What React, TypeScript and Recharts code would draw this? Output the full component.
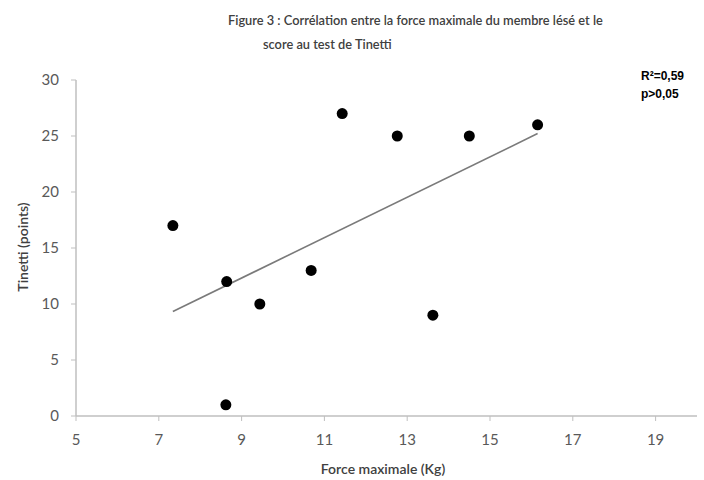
import { ScatterChart, Scatter, XAxis, YAxis, ReferenceLine } from "recharts";

// Force maximale (Kg) and Tinetti score per patient
const force = [7.34, 8.64, 8.62, 9.44, 10.68, 11.43, 12.76, 13.62, 14.5, 16.15];
const tinetti = [17, 12, 1, 10, 13, 27, 25, 9, 25, 26];
const xTicks = [5, 7, 9, 11, 13, 15, 17, 19];
const yTicks = [0, 5, 10, 15, 20, 25, 30];

const points = force.map((x, i) => ({ x, y: tinetti[i] }));

// least squares trend line over the observed range
const n = force.length;
const mx = force.reduce((a, b) => a + b, 0) / n;
const my = tinetti.reduce((a, b) => a + b, 0) / n;
let sxy = 0;
let sxx = 0;
force.forEach((x, i) => {
  sxy += (x - mx) * (tinetti[i] - my);
  sxx += (x - mx) * (x - mx);
});
const slope = sxy / sxx;
const xMin = Math.min(...force);
const xMax = Math.max(...force);
const trend = [
  { x: xMin, y: my + slope * (xMin - mx) },
  { x: xMax, y: my + slope * (xMax - mx) },
];

const font = "Lato, 'Open Sans', sans-serif";
const tickStyle = { fill: "#595959", fontSize: 15, fontFamily: font };

export default function App() {
  return (
    <div style={{ position: "absolute", left: 0, top: 0, width: 704, height: 480, background: "#fff" }}>
      <div style={{ position: "absolute", left: 228, top: 12, fontFamily: font, fontSize: 12.8, fontWeight: 600, color: "#404040", whiteSpace: "nowrap" }}>
        Figure 3 : Corrélation entre la force maximale du membre lésé et le
      </div>
      <div style={{ position: "absolute", left: 263, top: 36, fontFamily: font, fontSize: 12.8, fontWeight: 600, color: "#404040", whiteSpace: "nowrap" }}>
        score au test de Tinetti
      </div>
      <div style={{ position: "absolute", left: 641, top: 67, fontFamily: "'Liberation Sans', Arial, sans-serif", fontSize: 12, fontWeight: "bold", color: "#000", lineHeight: "18px" }}>
        R²=0,59
        <br />
        p&gt;0,05
      </div>
      <div
        style={{
          position: "absolute",
          left: 22,
          top: 247,
          transform: "translate(-50%, -50%) rotate(-90deg)",
          fontFamily: font,
          fontSize: 14,
          fontWeight: 600,
          color: "#404040",
          whiteSpace: "nowrap",
        }}
      >
        Tinetti (points)
      </div>
      <div
        style={{
          position: "absolute",
          left: 383,
          top: 468,
          transform: "translate(-50%, -50%)",
          fontFamily: font,
          fontSize: 14,
          fontWeight: 600,
          color: "#404040",
          whiteSpace: "nowrap",
        }}
      >
        Force maximale (Kg)
      </div>
      <ScatterChart width={704} height={480} margin={{ top: 80, right: 7, bottom: 34, left: 16 }}>
        <XAxis
          type="number"
          dataKey="x"
          domain={[5, 20]}
          ticks={xTicks}
          allowDataOverflow
          axisLine={{ stroke: "#bfbfbf", strokeWidth: 1.5 }}
          tickLine={{ stroke: "#bfbfbf" }}
          tickSize={5}
          tickMargin={13}
          tick={tickStyle}
          height={30}
        />
        <YAxis
          type="number"
          dataKey="y"
          domain={[0, 30]}
          ticks={yTicks}
          axisLine={{ stroke: "#bfbfbf", strokeWidth: 1.5 }}
          tickLine={{ stroke: "#bfbfbf" }}
          tickSize={5}
          tickMargin={12}
          tick={tickStyle}
          width={60}
        />
        <ReferenceLine segment={trend} stroke="#7a7a7a" strokeWidth={1.6} ifOverflow="visible" />
        <Scatter data={points} fill="#000" isAnimationActive={false} shape={(p: any) => <circle cx={p.cx} cy={p.cy} r={5.5} fill="#000" />} />
      </ScatterChart>
    </div>
  );
}
